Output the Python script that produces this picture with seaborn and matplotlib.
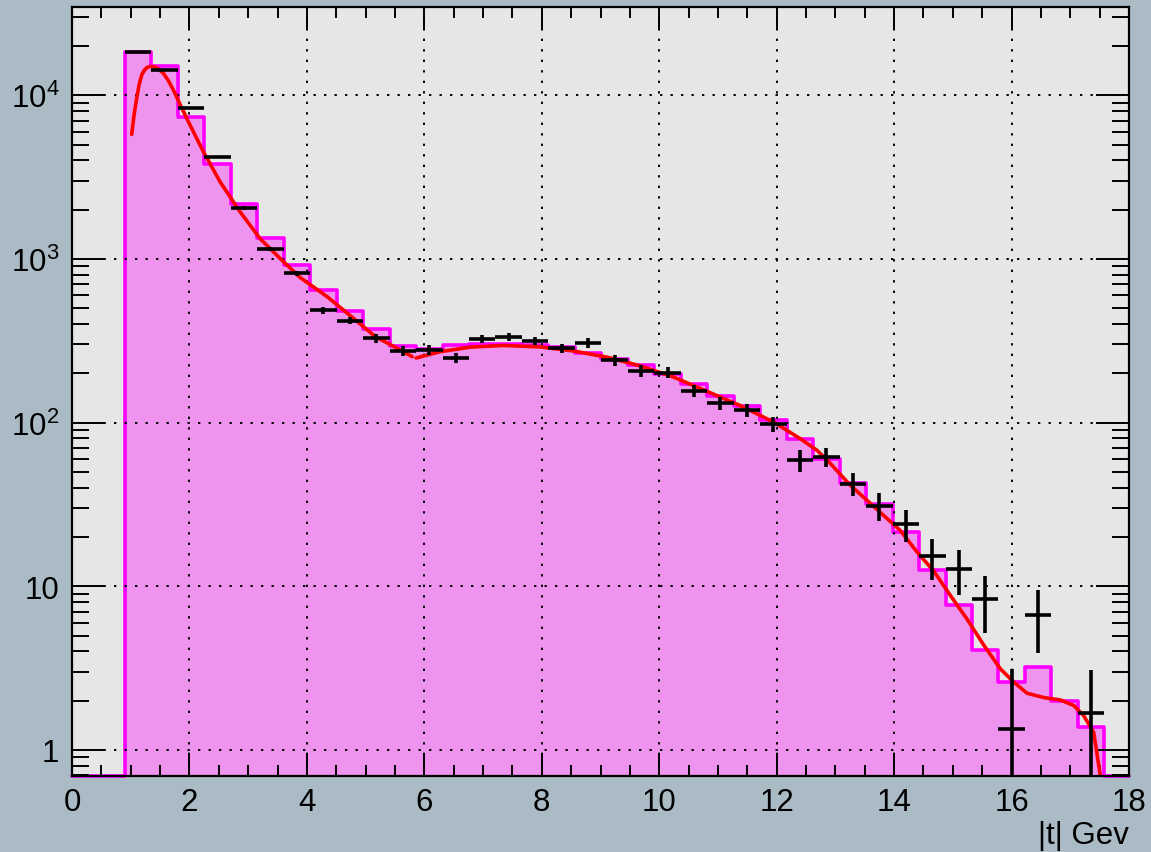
import numpy as np
import pandas as pd
import matplotlib
matplotlib.use("Agg")
import matplotlib.pyplot as plt
from matplotlib.ticker import FixedLocator, FixedFormatter, MultipleLocator, LogLocator, NullFormatter
import seaborn as sns

# ---------------- data ----------------
bin_lo = 0.9
bin_hi = 17.58
n_bins = 37

hist_counts = [18300, 15000, 7330, 3790, 2150, 1350, 912, 643, 480, 371,
               293, 282, 297, 300, 300, 296, 288, 268, 246, 224,
               197, 171, 145, 126, 103, 79.8, 60.3, 43, 31.6, 21.6,
               12.5, 7.7, 4.1, 2.6, 3.23, 1.99, 1.39]

data_values = [18400, 14300, 8360, 4200, 2050, 1150, 815, 484, 420, 327,
               275, 277, 249, 325, 334, 316, 284, 307, 240, 207,
               202, 156, 132, 119, 98, 59, 61.7, 42.4, 31, 23.9,
               15.2, 12.7, 8.4, 1.34, 6.7, np.nan, 1.68]

data_errors = [150, 130, 100, 70, 50, 37, 31, 23, 22, 20,
               19, 19, 19, 20, 20, 18, 18, 20, 18, 17,
               16, 13, 12, 11, 10, 9, 8.5, 7, 6, 5.3,
               4.3, 3.9, 3.2, 1.8, 2.8, np.nan, 1.4]

fit1_x = [1.017, 1.056, 1.102, 1.141, 1.187, 1.232, 1.283, 1.340, 1.414, 1.480,
          1.555, 1.640, 1.726, 1.850, 1.981, 2.237, 2.521,
          2.862, 3.203, 3.543, 3.884, 4.339, 4.736, 5.162, 5.588, 5.792]
fit1_y = [5770, 7550, 9590, 11500, 13300, 14220, 14830, 14980, 14900, 14400,
          13630, 12300, 10770, 8650, 6900, 4520, 2960,
          1940, 1330, 1007, 770, 590, 451, 336, 278, 253]

fit2_x = [5.860, 6.269, 6.780, 7.342, 7.973, 8.535, 9.114, 9.676, 10.239, 10.818,
          11.380, 11.942, 12.402, 12.687, 12.900, 13.254, 13.538, 13.821, 14.106, 14.390,
          14.673, 14.957, 15.242, 15.525, 15.809, 16.036, 16.264, 16.547, 16.831, 17.058,
          17.228, 17.399, 17.513]
fit2_y = [248, 271, 289, 296, 290, 274, 251, 222, 190, 155,
          127, 101, 79.7, 67.7, 57.0, 41.4, 33.5, 27.1, 21.9, 16.2,
          12.4, 8.8, 6.3, 4.38, 3.13, 2.6, 2.22, 2.09, 2.02, 1.87,
          1.62, 1.28, 0.69]

x_tick_vals = [0, 2, 4, 6, 8, 10, 12, 14, 16, 18]
y_tick_vals = [1, 10, 100, 1000, 10000]
y_tick_labels = ["1", "10", r"$\mathregular{10^{2}}$", r"$\mathregular{10^{3}}$", r"$\mathregular{10^{4}}$"]
x_title = "|t| Gev"

# ---------------- style ----------------
sns.set_style("ticks")
plt.rcParams["font.family"] = ["Liberation Sans", "DejaVu Sans"]
plt.rcParams["mathtext.fontset"] = "custom"
plt.rcParams["mathtext.rm"] = "Liberation Sans"
plt.rcParams["mathtext.it"] = "Liberation Sans:italic"
plt.rcParams["mathtext.bf"] = "Liberation Sans:bold"
plt.rcParams["text.color"] = "black"
plt.rcParams["xtick.color"] = "black"
plt.rcParams["ytick.color"] = "black"
plt.rcParams["xtick.labelcolor"] = "black"
plt.rcParams["ytick.labelcolor"] = "black"

fig_bg = "#abbbc6"
ax_bg = "#e6e6e6"
fill_col = "#ee93ee"
edge_col = "#ff00ff"

fig = plt.figure(figsize=(11.51, 8.53), dpi=100, facecolor=fig_bg)
ax = fig.add_axes([72 / 1151, 1 - 777 / 853, (1129 - 72) / 1151, (777 - 8) / 853])
ax.set_facecolor(ax_bg)

edges = np.linspace(bin_lo, bin_hi, n_bins + 1)
centers = 0.5 * (edges[:-1] + edges[1:])
width = edges[1] - edges[0]

hist_df = pd.DataFrame({"t": centers, "w": hist_counts})
sns.histplot(data=hist_df, x="t", weights="w", bins=edges.tolist(), element="step",
             fill=True, color=fill_col, edgecolor=edge_col, linewidth=2.6, alpha=1.0,
             ax=ax, zorder=1)

ax.set_yscale("log")
y_lo, y_hi = 0.693, 34600
ax.set_xlim(0, 18)
ax.set_ylim(y_lo, y_hi)

# zero-level histogram line outside the filled range
ax.plot([0, edges[0]], [y_lo, y_lo], color=edge_col, lw=2.6, clip_on=False, zorder=1)
ax.plot([edges[-1], 18], [y_lo, y_lo], color=edge_col, lw=2.6, clip_on=False, zorder=1)

# fit curve (two pieces)
sns.lineplot(x=fit1_x, y=fit1_y, color="red", linewidth=2.6, ax=ax, sort=False,
             estimator=None, zorder=3)
sns.lineplot(x=fit2_x, y=fit2_y, color="red", linewidth=2.6, ax=ax, sort=False,
             estimator=None, zorder=3)

# data points with error bars
dv = np.array(data_values, dtype=float)
de = np.array(data_errors, dtype=float)
m = ~np.isnan(dv)
ax.errorbar(centers[m], dv[m], xerr=width / 2, yerr=de[m], fmt="none",
            ecolor="black", elinewidth=2.6, capsize=0, zorder=4)

# grid
ax.set_axisbelow(False)
ax.grid(which="major", color="black", linestyle=(0, (1.2, 4.2)), linewidth=1.4)
ax.grid(which="minor", visible=False)

# ticks
ax.xaxis.set_major_locator(FixedLocator(x_tick_vals))
ax.xaxis.set_major_formatter(FixedFormatter([str(v) for v in x_tick_vals]))
ax.xaxis.set_minor_locator(MultipleLocator(0.5))
ax.yaxis.set_major_locator(FixedLocator(y_tick_vals))
ax.yaxis.set_major_formatter(FixedFormatter(y_tick_labels))
ax.yaxis.set_minor_locator(LogLocator(base=10, subs=np.arange(2, 10), numticks=20))
ax.yaxis.set_minor_formatter(NullFormatter())

ax.tick_params(axis="x", which="major", direction="in", length=16.5, width=1.4,
               top=True, bottom=True, labelsize=22.5, pad=8, colors="black")
ax.tick_params(axis="x", which="minor", direction="in", length=8, width=1.4,
               top=True, bottom=True, colors="black")
ax.tick_params(axis="y", which="major", direction="in", length=24, width=1.4,
               left=True, right=True, labelsize=22.5, pad=9, colors="black")
ax.tick_params(axis="y", which="minor", direction="in", length=12, width=1.4,
               left=True, right=True, colors="black")

for s in ax.spines.values():
    s.set_visible(True)
    s.set_linewidth(1.6)
    s.set_color("black")
    s.set_zorder(5)

ax.set_ylabel("")
ax.set_xlabel("")
fig.text(1129 / 1151, 1 - 851 / 853, x_title, ha="right", va="bottom", fontsize=22.5,
         color="black")

fig.savefig("out.png", dpi=100, facecolor=fig_bg)
